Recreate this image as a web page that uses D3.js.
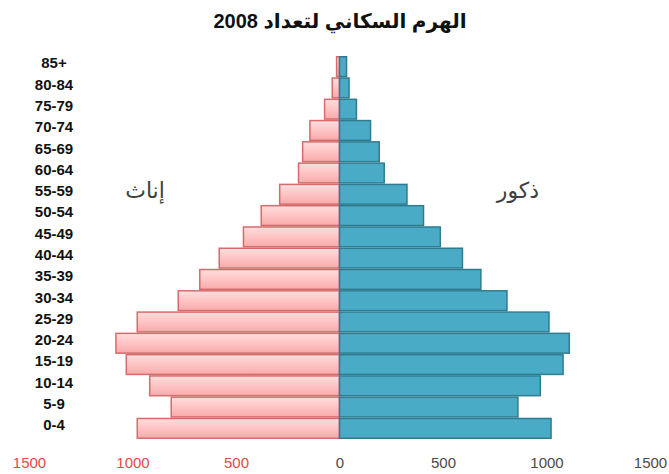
<!DOCTYPE html>
<html>
<head>
<meta charset="utf-8">
<script src="https://cdn.jsdelivr.net/npm/d3@7"></script>
<style>
  body { margin: 0; background: #fff; }
</style>
</head>
<body>
<div class="center"></div>
<script>
// age groups, top to bottom
var ages = ["85+", "80-84", "75-79", "70-74", "65-69", "60-64", "55-59", "50-54", "45-49",
            "40-44", "35-39", "30-34", "25-29", "20-24", "15-19", "10-14", "5-9", "0-4"];

// females (left) and males (right)
var females = [14, 35, 72, 143, 178, 198, 289, 378, 464, 581, 675, 779, 977, 1080, 1030, 917, 813, 977];
var males = [34, 46, 82, 150, 192, 216, 326, 406, 487, 594, 683, 809, 1012, 1110, 1080, 970, 862, 1022];

var ticks = [-1500, -1000, -500, 0, 500, 1000, 1500];

var title = "الهرم السكاني لتعداد 2008";
var femaleLabel = "إناث";
var maleLabel = "ذكور";

var width = 669, height = 474;

var svg = d3.select(".center").append("svg")
    .attr("width", width)
    .attr("height", height);

// set the ranges
var x = d3.scaleLinear().domain([-1500, 1500]).range([29, 650]);
var y = d3.scaleBand().domain(ages).range([56, 439]).padding(0);

// pink gradient for the female bars
var defs = svg.append("defs");
var grad = defs.append("linearGradient")
    .attr("id", "pink")
    .attr("x1", 0).attr("y1", 0).attr("x2", 0).attr("y2", 1);
grad.append("stop").attr("offset", "0%").attr("stop-color", "#ffdede");
grad.append("stop").attr("offset", "45%").attr("stop-color", "#ffc6c6");
grad.append("stop").attr("offset", "100%").attr("stop-color", "#f8aaaa");

// female bars
svg.selectAll(".female")
    .data(females)
    .enter().append("rect")
    .attr("class", "female")
    .attr("x", function(d) { return x(-d); })
    .attr("y", function(d, i) { return y(ages[i]) + 0.75; })
    .attr("width", function(d) { return x(0) - x(-d); })
    .attr("height", y.bandwidth() - 1.5)
    .attr("fill", "url(#pink)")
    .attr("stroke", "#d46c6c")
    .attr("stroke-width", 1.5);

// male bars
svg.selectAll(".male")
    .data(males)
    .enter().append("rect")
    .attr("class", "male")
    .attr("x", x(0))
    .attr("y", function(d, i) { return y(ages[i]) + 0.75; })
    .attr("width", function(d) { return x(d) - x(0); })
    .attr("height", y.bandwidth() - 1.5)
    .attr("fill", "#4aabc6")
    .attr("stroke", "#2f7c90")
    .attr("stroke-width", 1.5);

// X axis
var xAxis = svg.append("g")
    .attr("transform", "translate(0,457)")
    .call(d3.axisBottom(x).tickValues(ticks).tickSize(0).tickPadding(0)
        .tickFormat(function(d) { return Math.abs(d); }));
xAxis.select(".domain").remove();
xAxis.selectAll("text")
    .attr("font-family", "'Liberation Sans', Arial, sans-serif")
    .attr("font-size", "15px")
    .attr("fill", function(d) { return d < 0 ? "#e8474c" : "#4a4a4a"; });

// age labels
var yAxis = svg.append("g")
    .attr("transform", "translate(54,-3)")
    .call(d3.axisLeft(y).tickSize(0).tickPadding(0));
yAxis.select(".domain").remove();
yAxis.selectAll("text")
    .attr("x", 0)
    .attr("text-anchor", "middle")
    .attr("font-family", "'Liberation Sans', Arial, sans-serif")
    .attr("font-size", "15px")
    .attr("font-weight", "bold")
    .attr("fill", "#111");

// chart title
svg.append("text")
    .attr("x", 340)
    .attr("y", 28)
    .attr("text-anchor", "middle")
    .attr("font-family", "'Liberation Sans', 'DejaVu Sans', sans-serif")
    .attr("font-size", "20px")
    .attr("font-weight", "bold")
    .attr("fill", "#111")
    .text(title);

// side labels
svg.append("text")
    .attr("x", 145)
    .attr("y", 198)
    .attr("text-anchor", "middle")
    .attr("font-family", "'DejaVu Sans', sans-serif")
    .attr("font-size", "22px")
    .attr("fill", "#404040")
    .text(femaleLabel);

svg.append("text")
    .attr("x", 518)
    .attr("y", 198)
    .attr("text-anchor", "middle")
    .attr("font-family", "'DejaVu Sans', sans-serif")
    .attr("font-size", "22px")
    .attr("fill", "#404040")
    .text(maleLabel);
</script>
</body>
</html>
